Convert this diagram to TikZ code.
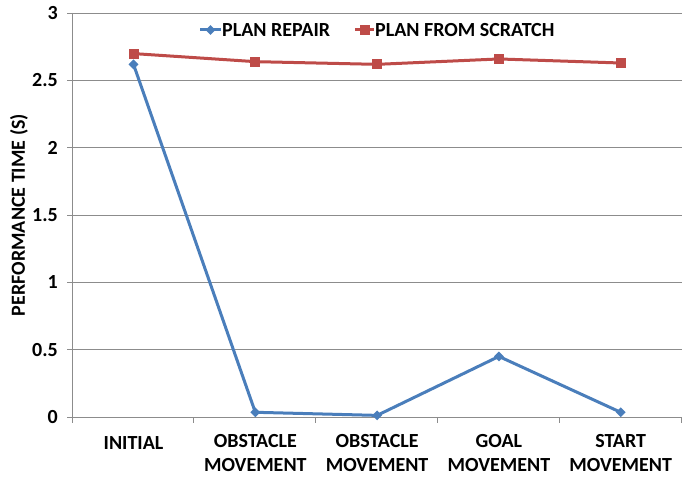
\documentclass[tikz,border=0pt]{standalone}
\usepackage{fontspec}
\setmainfont{Carlito}
\usetikzlibrary{shapes.geometric}
\definecolor{serA}{HTML}{4A7EBB}
\definecolor{serB}{HTML}{BE4B48}
\definecolor{gridc}{HTML}{8C8C8C}
\tikzset{
  lbl/.style={font=\bfseries\fontsize{20}{24}\selectfont, inner sep=0pt},
  gridline/.style={draw=gridc, line width=0.8pt},
  lineA/.style={draw=serA, line width=3pt, line join=round},
  lineB/.style={draw=serB, line width=3pt, line join=round},
  mkA/.style={diamond, fill=serA, inner sep=0pt, minimum size=10pt},
  mkB/.style={rectangle, fill=serB, inner sep=0pt, minimum size=10pt},
}
\begin{document}
\begin{tikzpicture}[x=1pt,y=-1pt]
\useasboundingbox (0,0) rectangle (693,481);
% gridlines and y ticks
\foreach \v/\t in {0/0,0.5/0.5,1/1,1.5/1.5,2/2,2.5/2.5,3/3}{
  \draw[gridline] (67,{417-134.6*\v}) -- (682,{417-134.6*\v});
  \node[lbl, anchor=east] (yt\t) at (58,{417-134.6*\v}) {\t};
}
% y axis
\draw[gridline] (72,13) -- (72,417);
% x ticks
\foreach \i in {0,...,5}{
  \draw[gridline] ({72+121.8*\i},417) -- ({72+121.8*\i},423);
}
% axis title
\node[lbl, rotate=90] (ytitle) at (19,215) {PERFORMANCE TIME (S)};
% category labels
\node[lbl, align=center] (c0) at (133.5,443) {INITIAL};
\node[lbl, align=center, anchor=north] (c1) at (255.3,434) {OBSTACLE\\MOVEMENT};
\node[lbl, align=center, anchor=north] (c2) at (377.1,434) {OBSTACLE\\MOVEMENT};
\node[lbl, align=center, anchor=north] (c3) at (498.9,434) {GOAL\\MOVEMENT};
\node[lbl, align=center, anchor=north] (c4) at (620.7,434) {START\\MOVEMENT};
% data
\foreach \i/\a/\b in {0/2.62/2.70,1/0.035/2.64,2/0.012/2.62,3/0.45/2.66,4/0.035/2.63}{
  \coordinate (a\i) at ({133.5+121.8*\i},{417-134.6*\a});
  \coordinate (b\i) at ({133.5+121.8*\i},{417-134.6*\b});
}
\draw[lineB] (b0) -- (b1) -- (b2) -- (b3) -- (b4);
\draw[lineA] (a0) -- (a1) -- (a2) -- (a3) -- (a4);
\foreach \i in {0,...,4}{
  \node[mkB] (mb\i) at (b\i) {};
  \node[mkA] (ma\i) at (a\i) {};
}
% legend
\coordinate (la1) at (200,30);
\coordinate (la2) at (221,30);
\draw[lineA] (la1) -- (la2);
\node[mkA] (lma) at (210.5,30) {};
\node[lbl, anchor=west] (lta) at (222,30) {PLAN REPAIR};
\coordinate (lb1) at (355,30);
\coordinate (lb2) at (374,30);
\draw[lineB] (lb1) -- (lb2);
\node[mkB] (lmb) at (364.5,30) {};
\node[lbl, anchor=west] (ltb) at (375,30) {PLAN FROM SCRATCH};
\end{tikzpicture}
\end{document}
